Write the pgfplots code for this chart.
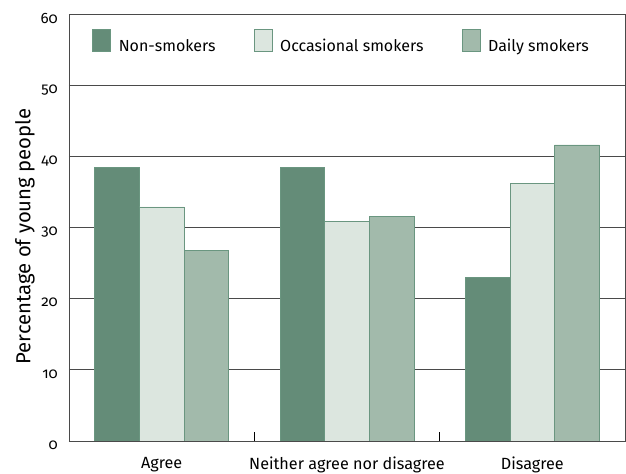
\documentclass[border=0pt]{standalone}
\usepackage{pgfplots}
\pgfplotsset{compat=1.18}
\usepackage{fontspec}
\setmainfont{Fira Sans}[Numbers=OldStyle]
\definecolor{cNon}{HTML}{648C78}
\definecolor{cOcc}{HTML}{DCE6DF}
\definecolor{cDaily}{HTML}{A2BAAB}
\definecolor{cEdge}{HTML}{6A9680}
\definecolor{cAxis}{HTML}{4A4A4A}
\begin{document}
\begin{tikzpicture}
\begin{axis}[
  scale only axis,
  width=556pt, height=427pt,
  xmin=-0.5, xmax=2.5,
  ymin=0, ymax=60,
  ytick={0,10,...,60},
  xtick={0,1,2},
  xticklabels={Agree, Neither agree nor disagree, Disagree},
  xtick pos=bottom,
  major tick length=0pt,
  extra x ticks={0.5,1.5},
  extra x tick labels={},
  extra x tick style={major tick length=9pt, tick align=inside, tick style={color=black, line width=0.6pt}},
  ymajorgrids,
  grid style={color=cAxis, line width=0.9pt},
  axis line style={color=cAxis, line width=0.9pt},
  ylabel={Percentage of young people},
  ylabel style={font=\fontsize{20.3}{22}\selectfont, at={(axis description cs:-0.0791,0.479)}, anchor=center},
  xticklabel style={font=\fontsize{16.2}{18}\selectfont, anchor=north, inner sep=0pt, yshift=-16pt},
  yticklabel style={font=\fontsize{15}{16}\selectfont, anchor=north east, inner sep=0pt, xshift=-11pt, yshift=0.5pt},
  /pgf/number format/assume math mode=true,
  ybar=0pt,
  bar width=0.241,
  legend style={at={(0.0414,0.965)}, anchor=north west, draw=none, fill=none, inner sep=0pt,
    legend columns=3, font=\fontsize{16}{18}\selectfont,
    /tikz/every even column/.append style={column sep=34pt},
    /tikz/every odd column/.append style={column sep=4pt},
    nodes={inner sep=4pt}},
  legend image code/.code={\draw[#1] (0pt,-5pt) rectangle (18pt,17pt);},
  every axis plot/.append style={draw=cEdge, line width=0.6pt},
]
\addplot[fill=cNon] coordinates {(0,38.5) (1,38.5) (2,23.0)};
\addplot[fill=cOcc] coordinates {(0,32.9) (1,30.9) (2,36.2)};
\addplot[fill=cDaily] coordinates {(0,26.8) (1,31.6) (2,41.6)};
\legend{Non-smokers, Occasional smokers, Daily smokers}
\end{axis}
\path (current axis.south west) ++(-69pt,-31pt) coordinate (bbA);
\path (current axis.north east) ++(1pt,14pt) coordinate (bbB);
\useasboundingbox (bbA) rectangle (bbB);
\end{tikzpicture}
\end{document}
